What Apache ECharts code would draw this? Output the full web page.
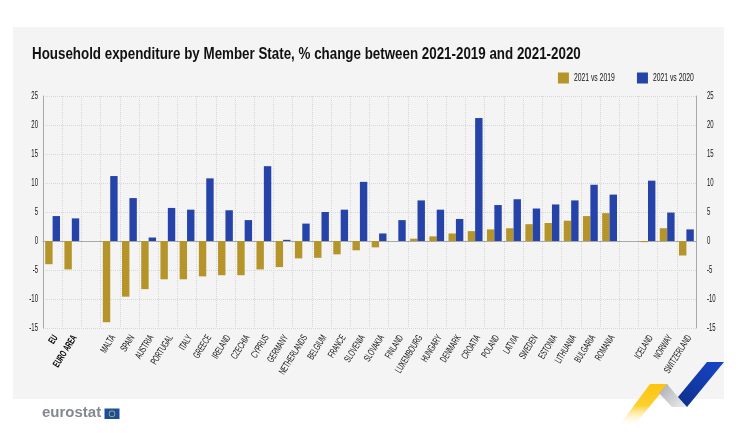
<!DOCTYPE html>
<html>
<head>
<meta charset="utf-8">
<style>
  html, body { margin: 0; padding: 0; background: #fff; }
  #chart { width: 748px; height: 433px; }
</style>
<script src="https://cdn.jsdelivr.net/npm/echarts@6/dist/echarts.min.js"></script>
</head>
<body>
<div id="chart"></div>
<script>
const categories = ['EU', 'EURO AREA', '', 'MALTA', 'SPAIN', 'AUSTRIA', 'PORTUGAL', 'ITALY', 'GREECE', 'IRELAND', 'CZECHIA', 'CYPRUS', 'GERMANY', 'NETHERLANDS', 'BELGIUM', 'FRANCE', 'SLOVENIA', 'SLOVAKIA', 'FINLAND', 'LUXEMBOURG', 'HUNGARY', 'DENMARK', 'CROATIA', 'POLAND', 'LATVIA', 'SWEDEN', 'ESTONIA', 'LITHUANIA', 'BULGARIA', 'ROMANIA', '', 'ICELAND', 'NORWAY', 'SWITZERLAND']
const vs2019 = [-4.0, -4.9, null, -14.0, -9.6, -8.3, -6.6, -6.6, -6.1, -5.9, -5.9, -4.9, -4.5, -3.0, -2.9, -2.3, -1.6, -1.1, 0, 0.4, 0.8, 1.3, 1.7, 2.0, 2.2, 2.9, 3.1, 3.5, 4.3, 4.8, null, -0.2, 2.2, -2.5]
const vs2020 = [4.3, 3.9, null, 11.2, 7.4, 0.6, 5.7, 5.4, 10.8, 5.3, 3.6, 12.9, 0.2, 3.0, 5.0, 5.4, 10.2, 1.3, 3.6, 7.0, 5.4, 3.8, 21.2, 6.2, 7.2, 5.6, 6.3, 7.0, 9.7, 8.0, null, 10.4, 4.9, 2.0]
const boldCategories = ['EU', 'EURO AREA']

const FONT = '"Liberation Sans", sans-serif'
const GOLD = '#b5942a'
const BLUE = '#2543a8'
const TEXT = '#111'
const TITLE = 'Household expenditure by Member State, % change between 2021-2019 and 2021-2020'
const LOGO = 'eurostat'
// no condensed face is installed, so text gets squeezed after layout
const LEGEND_SQUEEZE = 0.68
const LABEL_SQUEEZE = 0.6
const TITLE_SQUEEZE = 0.786
const LABEL_SHIFT = 3

const chart = echarts.init(document.getElementById('chart'))

function valueAxis(position) {
    return {
        type: 'value',
        position: position,
        min: -15,
        max: 25,
        interval: 5,
        axisLine: {show: true, lineStyle: {color: '#a8a8a8', width: 1}},
        axisTick: {show: false},
        axisLabel: {color: TEXT, fontFamily: FONT, fontSize: 10, margin: 8},
        splitLine: {show: position === 'left', lineStyle: {color: '#d8d8d8', type: 'dotted', width: 1}}
    }
}

const options = {
    backgroundColor: '#fff',
    animation: false,
    textStyle: {fontFamily: FONT},
    title: {
        text: TITLE,
        left: 27,
        top: 41,
        textStyle: {fontFamily: FONT, fontSize: 17, fontWeight: 'bold', color: '#111'}
    },
    legend: {
        right: 35,
        top: 72.5,
        padding: 0,
        icon: 'rect',
        itemWidth: 11,
        itemHeight: 11,
        itemGap: 3,
        textStyle: {fontFamily: FONT, fontSize: 10, color: TEXT},
        data: ['2021 vs 2019', '2021 vs 2020']
    },
    grid: {left: 43, right: 52, top: 96, bottom: 105},
    xAxis: [
        {
            type: 'category',
            data: categories,
            position: 'bottom',
            axisLine: {show: false, onZero: false},
            axisTick: {show: false},
            axisLabel: {
                interval: 0,
                rotate: 58,
                margin: 8,
                fontFamily: FONT,
                fontSize: 10,
                color: TEXT,
                formatter: value => boldCategories.includes(value) ? `{b|${value}}` : value,
                rich: {b: {fontFamily: FONT, fontSize: 10, fontWeight: 'bold', color: '#000'}}
            },
            splitLine: {show: true, interval: 0, lineStyle: {color: '#d8d8d8', type: 'dotted', width: 1}}
        },
        {
            type: 'category',
            data: categories,
            axisLine: {show: true, onZero: true, lineStyle: {color: '#a8a8a8', width: 1}},
            axisTick: {show: false},
            axisLabel: {show: false},
            splitLine: {show: false}
        }
    ],
    yAxis: [valueAxis('left'), valueAxis('right')],
    series: [
        {name: '2021 vs 2019', type: 'bar', data: vs2019, barWidth: 7.4, barGap: 0, itemStyle: {color: GOLD}},
        {name: '2021 vs 2020', type: 'bar', data: vs2020, barWidth: 7.4, barGap: 0, itemStyle: {color: BLUE}}
    ],
    graphic: [
        // grey panel behind the chart
        {type: 'rect', z: -10, shape: {x: 13, y: 27, width: 711, height: 372}, style: {fill: '#f4f4f4'}},
        // eurostat logo
        {type: 'text', x: 42, y: 405.5, style: {text: LOGO, fill: '#85888f', font: 'bold 15px "Liberation Sans", sans-serif'}},
        {type: 'rect', shape: {x: 104.5, y: 408.5, width: 15, height: 10.5}, style: {fill: '#1b4f9c'}},
        {type: 'ring', shape: {cx: 112, cy: 413.7, r: 3.2, r0: 2.5}, style: {fill: '#c9b84a'}},
        // ribbon
        {
            type: 'polygon',
            shape: {points: [[618, 427], [650, 384], [668, 384], [633, 427]]},
            style: {fill: new echarts.graphic.LinearGradient(0, 1, 0, 0, [
                {offset: 0, color: 'rgba(255,255,255,0)'},
                {offset: 0.5, color: '#fcd02e'},
                {offset: 1, color: '#fcc40e'}
            ])}
        },
        {
            type: 'polygon',
            shape: {points: [[667, 384], [678, 397], [687, 407], [672, 407], [659, 393]]},
            style: {fill: new echarts.graphic.LinearGradient(0, 0, 1, 1, [
                {offset: 0, color: '#a9abb0'},
                {offset: 1, color: '#f0f0f0'}
            ])}
        },
        {
            type: 'polygon',
            shape: {points: [[707, 362], [724, 362], [687, 407], [678, 397]]},
            style: {fill: new echarts.graphic.LinearGradient(0, 1, 1, 0, [
                {offset: 0, color: '#0f2f8c'},
                {offset: 1, color: '#1646c8'}
            ])}
        }
    ]
}

chart.setOption(options)

function squeezeText() {
    const zr = chart.getZr()
    zr.storage.getRoots().forEach(root => {
        if (!root.traverse) {
            return
        }
        root.traverse(el => {
            if (el.type !== 'text' || el.style.text === LOGO) {
                return
            }
            el.originX = el.style.x || 0
            if (el.style.text === TITLE) {
                el.scaleX = TITLE_SQUEEZE
            } else if (options.legend.data.includes(el.style.text)) {
                el.scaleX = LEGEND_SQUEEZE
            } else {
                el.scaleX = LABEL_SQUEEZE
            }
            // category labels are the only rotated texts
            if (el.rotation) {
                el.x += LABEL_SHIFT
            }
            el.markRedraw()
        })
    })
    zr.refreshImmediately()
}

squeezeText()
</script>
</body>
</html>
